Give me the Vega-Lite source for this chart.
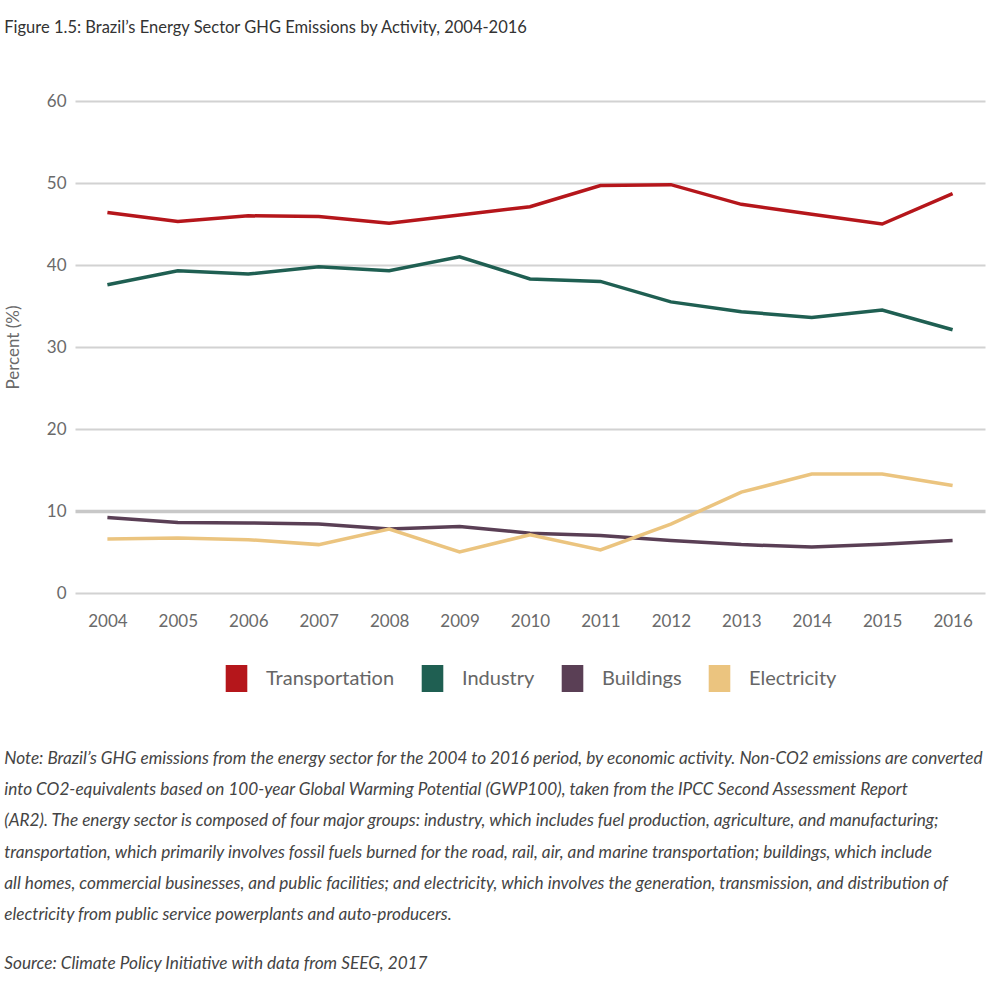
{
  "$schema": "https://vega.github.io/schema/vega-lite/v6.json",
  "padding": {"left": 4, "top": 19, "right": 2, "bottom": 10},
  "background": "white",
  "title": {
    "text": "Figure 1.5: Brazil’s Energy Sector GHG Emissions by Activity, 2004-2016",
    "anchor": "start",
    "frame": "bounds",
    "font": "Lato",
    "fontSize": 16.5,
    "fontWeight": "normal",
    "color": "#333333",
    "offset": 56
  },
  "resolve": {"legend": {"color": "independent"}},
  "config": {
    "view": {"stroke": null},
    "font": "Lato",
    "legend": {"layout": {"bottom": {"anchor": "middle"}}}
  },
  "vconcat": [
    {
      "width": 910,
      "height": 492,
      "title": {
        "text": [
          "Note: Brazil’s GHG emissions from the energy sector for the 2004 to 2016 period, by economic activity. Non-CO2 emissions are converted",
          "into CO2-equivalents based on 100-year Global Warming Potential (GWP100), taken from the IPCC Second Assessment Report",
          "(AR2). The energy sector is composed of four major groups: industry, which includes fuel production, agriculture, and manufacturing;",
          "transportation, which primarily involves fossil fuels burned for the road, rail, air, and marine transportation; buildings, which include",
          "all homes, commercial businesses, and public facilities; and electricity, which involves the generation, transmission, and distribution of",
          "electricity from public service powerplants and auto-producers."
        ],
        "subtitle": "Source: Climate Policy Initiative with data from SEEG, 2017",
        "orient": "bottom",
        "anchor": "start",
        "frame": "bounds",
        "font": "Lato",
        "fontSize": 17.2,
        "fontStyle": "italic",
        "fontWeight": "normal",
        "lineHeight": 31.2,
        "color": "#444444",
        "subtitleFont": "Lato",
        "subtitleFontSize": 17.2,
        "subtitleFontStyle": "italic",
        "subtitleColor": "#444444",
        "subtitlePadding": 32,
        "offset": 58
      },
      "data": {
        "values": [
          {"year": 2004, "activity": "Transportation", "value": 46.4},
          {"year": 2005, "activity": "Transportation", "value": 45.3},
          {"year": 2006, "activity": "Transportation", "value": 46.0},
          {"year": 2007, "activity": "Transportation", "value": 45.9},
          {"year": 2008, "activity": "Transportation", "value": 45.1},
          {"year": 2009, "activity": "Transportation", "value": 46.1},
          {"year": 2010, "activity": "Transportation", "value": 47.1},
          {"year": 2011, "activity": "Transportation", "value": 49.7},
          {"year": 2012, "activity": "Transportation", "value": 49.8},
          {"year": 2013, "activity": "Transportation", "value": 47.4},
          {"year": 2014, "activity": "Transportation", "value": 46.2},
          {"year": 2015, "activity": "Transportation", "value": 45.0},
          {"year": 2016, "activity": "Transportation", "value": 48.7},
          {"year": 2004, "activity": "Industry", "value": 37.6},
          {"year": 2005, "activity": "Industry", "value": 39.3},
          {"year": 2006, "activity": "Industry", "value": 38.9},
          {"year": 2007, "activity": "Industry", "value": 39.8},
          {"year": 2008, "activity": "Industry", "value": 39.3},
          {"year": 2009, "activity": "Industry", "value": 41.0},
          {"year": 2010, "activity": "Industry", "value": 38.3},
          {"year": 2011, "activity": "Industry", "value": 38.0},
          {"year": 2012, "activity": "Industry", "value": 35.5},
          {"year": 2013, "activity": "Industry", "value": 34.3},
          {"year": 2014, "activity": "Industry", "value": 33.6},
          {"year": 2015, "activity": "Industry", "value": 34.5},
          {"year": 2016, "activity": "Industry", "value": 32.1},
          {"year": 2004, "activity": "Buildings", "value": 9.2},
          {"year": 2005, "activity": "Buildings", "value": 8.6},
          {"year": 2006, "activity": "Buildings", "value": 8.55},
          {"year": 2007, "activity": "Buildings", "value": 8.4},
          {"year": 2008, "activity": "Buildings", "value": 7.8},
          {"year": 2009, "activity": "Buildings", "value": 8.1},
          {"year": 2010, "activity": "Buildings", "value": 7.3},
          {"year": 2011, "activity": "Buildings", "value": 7.0},
          {"year": 2012, "activity": "Buildings", "value": 6.4},
          {"year": 2013, "activity": "Buildings", "value": 5.9},
          {"year": 2014, "activity": "Buildings", "value": 5.6},
          {"year": 2015, "activity": "Buildings", "value": 5.95},
          {"year": 2016, "activity": "Buildings", "value": 6.4},
          {"year": 2004, "activity": "Electricity", "value": 6.6},
          {"year": 2005, "activity": "Electricity", "value": 6.7},
          {"year": 2006, "activity": "Electricity", "value": 6.5},
          {"year": 2007, "activity": "Electricity", "value": 5.9},
          {"year": 2008, "activity": "Electricity", "value": 7.8},
          {"year": 2009, "activity": "Electricity", "value": 5.0},
          {"year": 2010, "activity": "Electricity", "value": 7.1},
          {"year": 2011, "activity": "Electricity", "value": 5.25},
          {"year": 2012, "activity": "Electricity", "value": 8.4},
          {"year": 2013, "activity": "Electricity", "value": 12.3},
          {"year": 2014, "activity": "Electricity", "value": 14.5},
          {"year": 2015, "activity": "Electricity", "value": 14.5},
          {"year": 2016, "activity": "Electricity", "value": 13.1}
        ]
      },
      "mark": {"type": "line", "strokeWidth": 3.5},
      "encoding": {
        "x": {
          "field": "year",
          "type": "ordinal",
          "scale": {"type": "point", "padding": 0.46},
          "axis": {
            "title": null,
            "labelAngle": 0,
            "domain": false,
            "ticks": false,
            "grid": false,
            "labelFont": "Lato",
            "labelFontSize": 17,
            "labelColor": "#6a6a6a",
            "labelPadding": 20
          }
        },
        "y": {
          "field": "value",
          "type": "quantitative",
          "scale": {"domain": [0, 60]},
          "axis": {
            "title": "Percent (%)",
            "titleFont": "Lato",
            "titleFontSize": 17,
            "titleFontWeight": "normal",
            "titleColor": "#6a6a6a",
            "titlePadding": 24,
            "values": [0, 10, 20, 30, 40, 50, 60],
            "domain": false,
            "ticks": false,
            "labelFont": "Lato",
            "labelFontSize": 17,
            "labelColor": "#6a6a6a",
            "labelPadding": 9,
            "grid": true,
            "gridColor": {"condition": {"test": "datum.value === 10", "value": "#c8c8c8"}, "value": "#d2d2d2"},
            "gridWidth": {"condition": {"test": "datum.value === 10", "value": 3.5}, "value": 1.8}
          }
        },
        "color": {
          "field": "activity",
          "type": "nominal",
          "scale": {
            "domain": ["Transportation", "Industry", "Buildings", "Electricity"],
            "range": ["#b5161b", "#1f5f52", "#5a3f55", "#ebc47f"]
          },
          "legend": {
            "title": null,
            "orient": "bottom",
            "direction": "horizontal",
            "offset": 36,
            "symbolType": "M-0.8,-1H0.8V1H-0.8Z",
            "symbolSize": 729,
            "symbolOpacity": 1,
            "labelFont": "Lato",
            "labelFontSize": 20,
            "labelColor": "#666666",
            "labelOffset": 16,
            "columnPadding": 24,
            "labelLimit": 300,
            "encode": {
              "symbols": {
                "update": {
                  "fill": {"scale": "color", "field": "value"},
                  "stroke": {"value": "transparent"},
                  "strokeWidth": {"value": 0}
                }
              }
            }
          }
        }
      }
    }
  ]
}
